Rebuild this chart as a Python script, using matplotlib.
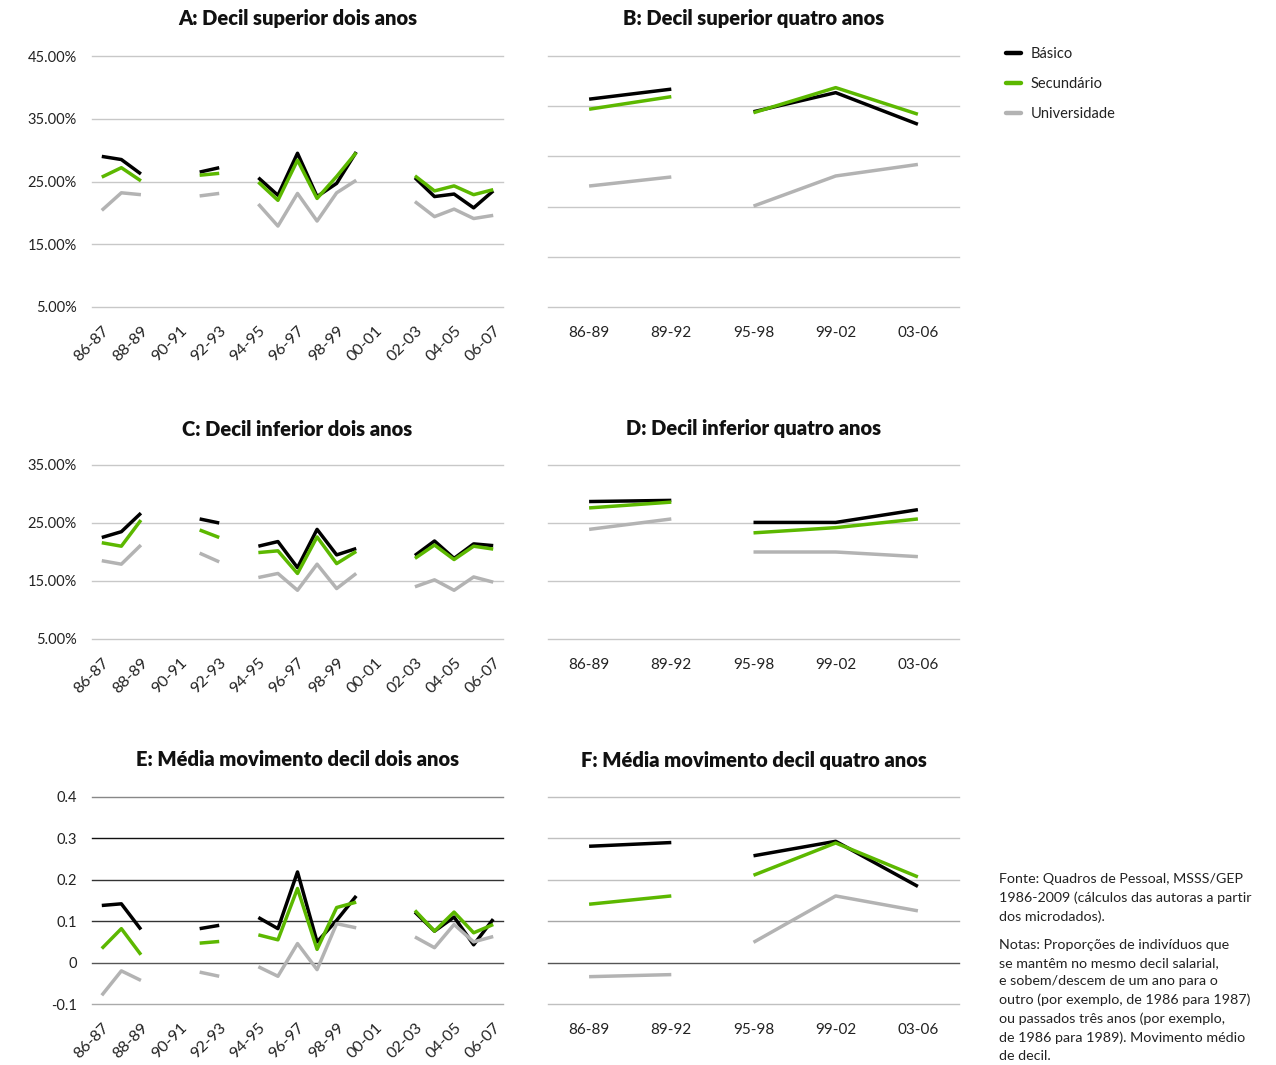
import numpy as np
import matplotlib
matplotlib.use("Agg")
import matplotlib.pyplot as plt
from matplotlib.lines import Line2D

plt.rcParams['font.family'] = ['Lato', 'DejaVu Sans']

# ---------------- data ----------------
two_year_cats = ['86-87', '87-88', '88-89', '89-90', '90-91', '91-92', '92-93',
                 '93-94', '94-95', '95-96', '96-97', '97-98', '98-99', '99-00',
                 '00-01', '01-02', '02-03', '03-04', '04-05', '05-06', '06-07']
four_year_cats = ['86-89', '89-92', '95-98', '99-02', '03-06']
four_year_breaks = [1]  # line broken after this index
N = np.nan

# A: top decile, two years (%)
a_basico = [29.0, 28.5, 26.2, N, N, 26.5, 27.2, N, 25.6, 22.8, 29.5, 22.6, 24.7, 29.7,
            N, N, 25.6, 22.6, 23.0, 20.8, 23.5]
a_secund = [25.7, 27.2, 25.1, N, N, 26.0, 26.3, N, 24.9, 22.0, 28.4, 22.3, 25.8, 29.6,
            N, N, 25.9, 23.5, 24.3, 22.9, 23.7]
a_univ = [20.4, 23.2, 22.9, N, N, 22.7, 23.1, N, 21.4, 17.9, 23.1, 18.7, 23.2, 25.2,
          N, N, 21.8, 19.4, 20.6, 19.1, 19.6]

# B: top decile, four years (%)
b_basico = [41.4, 43.4, 38.9, 42.7, 36.4]
b_secund = [39.4, 41.9, 38.7, 43.7, 38.4]
b_univ = [24.1, 25.9, 20.1, 26.1, 28.4]

# C: bottom decile, two years (%)
c_basico = [22.5, 23.5, 26.7, N, N, 25.7, 25.0, N, 21.0, 21.8, 17.3, 23.9, 19.5, 20.6,
            N, N, 19.4, 21.9, 18.9, 21.4, 21.1]
c_secund = [21.6, 21.0, 25.5, N, N, 23.8, 22.5, N, 19.9, 20.2, 16.3, 22.6, 18.0, 20.1,
            N, N, 18.9, 21.2, 18.7, 21.0, 20.5]
c_univ = [18.5, 17.9, 21.2, N, N, 19.8, 18.3, N, 15.6, 16.3, 13.4, 17.9, 13.7, 16.3,
          N, N, 14.0, 15.2, 13.4, 15.7, 14.8]

# D: bottom decile, four years (%)
d_basico = [28.7, 28.9, 25.1, 25.1, 27.3]
d_secund = [27.6, 28.6, 23.3, 24.2, 25.7]
d_univ = [23.9, 25.7, 20.0, 20.0, 19.2]

# E: mean decile movement, two years
e_basico = [0.138, 0.142, 0.080, N, N, 0.082, 0.090, N, 0.109, 0.082, 0.219, 0.050, 0.102,
            0.161, N, N, 0.122, 0.076, 0.110, 0.043, 0.105]
e_secund = [0.034, 0.082, 0.019, N, N, 0.047, 0.051, N, 0.067, 0.055, 0.179, 0.032, 0.133,
            0.146, N, N, 0.126, 0.076, 0.122, 0.072, 0.092]
e_univ = [-0.079, -0.020, -0.043, N, N, -0.023, -0.033, N, -0.010, -0.033, 0.046, -0.017,
          0.094, 0.084, N, N, 0.062, 0.036, 0.092, 0.050, 0.063]

# F: mean decile movement, four years
f_basico = [0.281, 0.290, 0.258, 0.293, 0.184]
f_secund = [0.141, 0.161, 0.211, 0.289, 0.207]
f_univ = [-0.034, -0.029, 0.049, 0.161, 0.125]

series_names = ['Básico', 'Secundário', 'Universidade']
colors = ['#000000', '#5cb800', '#b3b3b3']

titles = ['A: Decil superior dois anos', 'B: Decil superior quatro anos',
          'C: Decil inferior dois anos', 'D: Decil inferior quatro anos',
          'E: Média movimento decil dois anos', 'F: Média movimento decil quatro anos']

fonte = ("Fonte: Quadros de Pessoal, MSSS/GEP\n1986-2009 (cálculos das autoras a partir\n"
         "dos microdados).")
notas = ("Notas: Proporções de indivíduos que\nse mantêm no mesmo decil salarial,\n"
         "e sobem/descem de um ano para o\noutro (por exemplo, de 1986 para 1987)\n"
         "ou passados três anos (por exemplo,\nde 1986 para 1989). Movimento médio\n"
         "de decil.")

# ---------------- figure ----------------
W, H = 1276, 1065
fig = plt.figure(figsize=(W / 100, H / 100), dpi=100)


def add_ax(x0, y0, x1, y1):
    return fig.add_axes([x0 / W, 1 - y1 / H, (x1 - x0) / W, (y1 - y0) / H])


LW = 2.5
TXT = '#222222'


def style(ax, yticks, ylim, grid_colors, show_labels, fmt):
    ax.set_ylim(*ylim)
    ax.set_yticks(yticks)
    for s in ax.spines.values():
        s.set_visible(False)
    for y, c in zip(yticks, grid_colors):
        ax.axhline(y, color=c, lw=1.0, zorder=0, clip_on=False)
    ax.tick_params(axis='both', length=0, labelsize=10.5, colors=TXT)
    if show_labels:
        ax.set_yticklabels([fmt(v) for v in yticks])
        ax.tick_params(axis='y', pad=11, labelsize=10.5)
    else:
        ax.set_yticklabels([])


def two_year(ax, data, yticks, ylim, grid_colors, fmt):
    x = np.arange(len(two_year_cats))
    for vals, c in zip(data, colors):
        ax.plot(x, vals, color=c, lw=LW, solid_capstyle='butt', zorder=3)
    ax.set_xlim(-0.5, len(two_year_cats) - 0.5)
    ax.set_xticks(x[::2])
    ax.set_xticklabels(two_year_cats[::2], rotation=45, ha='right', va='top',
                       rotation_mode='anchor')
    style(ax, yticks, ylim, grid_colors, True, fmt)
    ax.tick_params(axis='x', pad=12, labelsize=11.5)


def four_year(ax, data, yticks, ylim, grid_colors):
    x = np.arange(len(four_year_cats))
    bounds = [0] + [b + 1 for b in four_year_breaks] + [len(four_year_cats)]
    for vals, c in zip(data, colors):
        v = np.array(vals)
        for s, e in zip(bounds[:-1], bounds[1:]):
            ax.plot(x[s:e], v[s:e], color=c, lw=LW, solid_capstyle='butt', zorder=3)
    ax.set_xlim(-0.5, len(four_year_cats) - 0.5)
    ax.set_xticks(x)
    ax.set_xticklabels(four_year_cats)
    style(ax, yticks, ylim, grid_colors, False, None)
    ax.tick_params(axis='x', pad=14, labelsize=11)


pct = lambda v: f'{v:.2f}%'
LG = '#c8c8c8'

axA = add_ax(92, 56, 503, 307)
two_year(axA, [a_basico, a_secund, a_univ], [5, 15, 25, 35, 45], (5, 45), [LG] * 5, pct)
axB = add_ax(548, 56, 959, 307)
four_year(axB, [b_basico, b_secund, b_univ], [0, 10, 20, 30, 40, 50], (0, 50), [LG] * 6)

axC = add_ax(92, 465, 503, 639)
two_year(axC, [c_basico, c_secund, c_univ], [5, 15, 25, 35], (5, 35), [LG] * 4, pct)
axD = add_ax(548, 465, 959, 639)
four_year(axD, [d_basico, d_secund, d_univ], [5, 15, 25, 35], (5, 35), [LG] * 4)

e_ticks = [-0.1, 0, 0.1, 0.2, 0.3, 0.4]
axE = add_ax(92, 797, 503, 1004)
two_year(axE, [e_basico, e_secund, e_univ], e_ticks, (-0.1, 0.4),
         ['#aaaaaa', '#555555', '#333333', '#333333', '#111111', '#888888'],
         lambda v: '0' if v == 0 else f'{v:g}')
axF = add_ax(548, 797, 959, 1004)
four_year(axF, [f_basico, f_secund, f_univ], e_ticks, (-0.1, 0.4),
          ['#c0c0c0', '#555555', '#a8a8a8', '#c0c0c0', '#c0c0c0', '#c0c0c0'])

# titles as figure text centred above each panel
for ax, t, ty in zip([axA, axB, axC, axD, axE, axF], titles, [19, 19, 429, 429, 760, 760]):
    bb = ax.get_position()
    fig.text(bb.x0 + bb.width / 2, 1 - ty / H, t, fontsize=14.5, fontweight='heavy',
             color='#111111', ha='center', va='center')

# legend
handles = [Line2D([0], [0], color=c, lw=3.2, solid_capstyle='round') for c in colors]
leg = fig.legend(handles, series_names, loc='upper left',
                 bbox_to_anchor=(993 / W, 1 - 34 / H), frameon=False,
                 fontsize=10.5, handlelength=1.0, handletextpad=0.7,
                 labelspacing=1.1, labelcolor=TXT)

# notes
fig.text(999 / W, 1 - 873 / H, fonte, fontsize=10.3, color=TXT, va='top', ha='left',
         linespacing=1.6)
fig.text(999 / W, 1 - 939 / H, notas, fontsize=10.3, color=TXT, va='top', ha='left',
         linespacing=1.6)

fig.savefig('out.png', dpi=100, facecolor='white')
